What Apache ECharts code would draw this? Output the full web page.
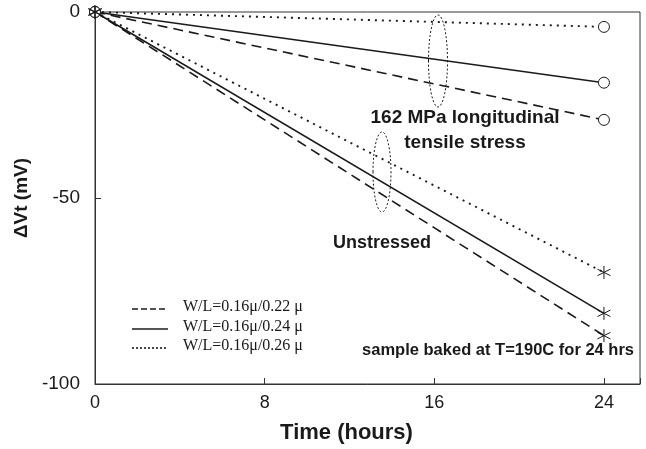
<!DOCTYPE html>
<html>
<head>
<meta charset="utf-8">
<script src="https://cdn.jsdelivr.net/npm/echarts@6/dist/echarts.min.js"></script>
<style>
  html, body { margin: 0; padding: 0; background: #fff; }
  #chart { width: 646px; height: 449px; }
</style>
</head>
<body>
<div id="chart"></div>
<script>
// time points (hours)
const hours = [0, 24];
// 162 MPa longitudinal tensile stress (circles)
const stressed022 = [0, -29];
const stressed024 = [0, -19];
const stressed026 = [0, -4];
// unstressed (asterisks)
const unstressed022 = [0, -87];
const unstressed024 = [0, -81];
const unstressed026 = [0, -70];

const xTicks = [0, 8, 16, 24];
const yTicks = [-100, -50, 0];

const legendNames = ["W/L=0.16μ/0.22 μ", "W/L=0.16μ/0.24 μ", "W/L=0.16μ/0.26 μ"];
const dashTypes = [[10, 6], "solid", [2, 5]];

const ink = "#1a1a1a";
const asterisk = "path://M5,0L5,10M0.7,2.5L9.3,7.5M0.7,7.5L9.3,2.5";

function pairs(vals) {
  return hours.map(function (h, i) { return [h, vals[i]]; });
}

function makeSeries(vals, idx, symbol, size) {
  return {
    name: legendNames[idx],
    type: "line",
    data: pairs(vals),
    symbol: symbol,
    symbolSize: size,
    showAllSymbol: true,
    lineStyle: { color: ink, width: idx === 2 ? 1.9 : 1.6, type: dashTypes[idx] },
    itemStyle: { color: "#fff", borderColor: ink, borderWidth: 1 },
    emphasis: { disabled: true },
    z: 3
  };
}

let myChart = echarts.init(document.getElementById("chart"));

// legend drawn by hand (line samples only, no markers)
const legendGraphics = [];
const legendRows = [309, 329, 348];
legendRows.forEach(function (y, i) {
  legendGraphics.push({
    type: "line",
    shape: { x1: 132, y1: y, x2: 168, y2: y },
    style: { stroke: ink, lineWidth: 1.6, lineDash: i === 1 ? null : (i === 2 ? [2, 2] : [6, 3]) }
  });
  legendGraphics.push({
    type: "text",
    left: 183,
    top: y - 10,
    style: { text: legendNames[i], font: "16px 'Liberation Serif'", fill: ink }
  });
});

myChart.setOption({
  animation: false,
  grid: { left: 95, right: 6, top: 12, bottom: 62, show: true, borderColor: "#333", borderWidth: 1 },
  xAxis: {
    type: "value",
    min: 0,
    max: 25.7,
    interval: 8,
    name: "Time (hours)",
    nameLocation: "middle",
    nameGap: 38,
    nameTextStyle: { fontFamily: "Liberation Sans", fontWeight: "bold", fontSize: 22, color: ink, padding: [0, 42, 0, 0] },
    axisLine: { onZero: false, lineStyle: { color: "#333", width: 1 } },
    axisTick: { inside: true, length: 6, lineStyle: { color: "#333" } },
    axisLabel: {
      fontFamily: "Liberation Sans", fontSize: 18, color: ink, margin: 10,
      formatter: function (v) { return xTicks.indexOf(v) >= 0 ? String(v) : ""; }
    },
    splitLine: { show: false }
  },
  yAxis: {
    type: "value",
    min: -100,
    max: 0,
    interval: 50,
    name: "ΔVt (mV)",
    nameLocation: "middle",
    nameGap: 58,
    nameTextStyle: { fontFamily: "Liberation Sans", fontWeight: "bold", fontSize: 19, color: ink },
    axisLine: { onZero: false, lineStyle: { color: "#333", width: 1 } },
    axisTick: { inside: true, length: 6, lineStyle: { color: "#333" } },
    axisLabel: {
      fontFamily: "Liberation Sans", fontSize: 19, color: ink, margin: 15,
      formatter: function (v) { return yTicks.indexOf(v) >= 0 ? String(v) : ""; }
    },
    splitLine: { show: false }
  },
  series: [
    makeSeries(stressed022, 0, "circle", 11),
    makeSeries(stressed024, 1, "circle", 11),
    makeSeries(stressed026, 2, "circle", 11),
    makeSeries(unstressed022, 0, asterisk, 13),
    makeSeries(unstressed024, 1, asterisk, 13),
    makeSeries(unstressed026, 2, asterisk, 13)
  ],
  graphic: legendGraphics.concat([
    {
      type: "ellipse",
      shape: { cx: 438, cy: 61, rx: 9.5, ry: 46 },
      style: { fill: "none", stroke: ink, lineWidth: 1, lineDash: [2, 2] },
      z: 5
    },
    {
      type: "ellipse",
      shape: { cx: 382, cy: 172, rx: 9, ry: 40 },
      style: { fill: "none", stroke: ink, lineWidth: 1, lineDash: [2, 2] },
      z: 5
    },
    {
      type: "text",
      x: 465, y: 118,
      style: { text: "162 MPa longitudinal", font: "bold 19px 'Liberation Sans'", fill: ink, align: "center", verticalAlign: "middle" },
      z: 6
    },
    {
      type: "text",
      x: 465, y: 143,
      style: { text: "tensile stress", font: "bold 19px 'Liberation Sans'", fill: ink, align: "center", verticalAlign: "middle" },
      z: 6
    },
    {
      type: "text",
      x: 382, y: 243,
      style: { text: "Unstressed", font: "bold 18px 'Liberation Sans'", fill: ink, align: "center", verticalAlign: "middle" },
      z: 6
    },
    {
      type: "text",
      x: 634, y: 350,
      style: { text: "sample baked at T=190C for 24 hrs", font: "bold 16.5px 'Liberation Sans'", fill: ink, align: "right", verticalAlign: "middle" },
      z: 6
    }
  ])
});
</script>
</body>
</html>
